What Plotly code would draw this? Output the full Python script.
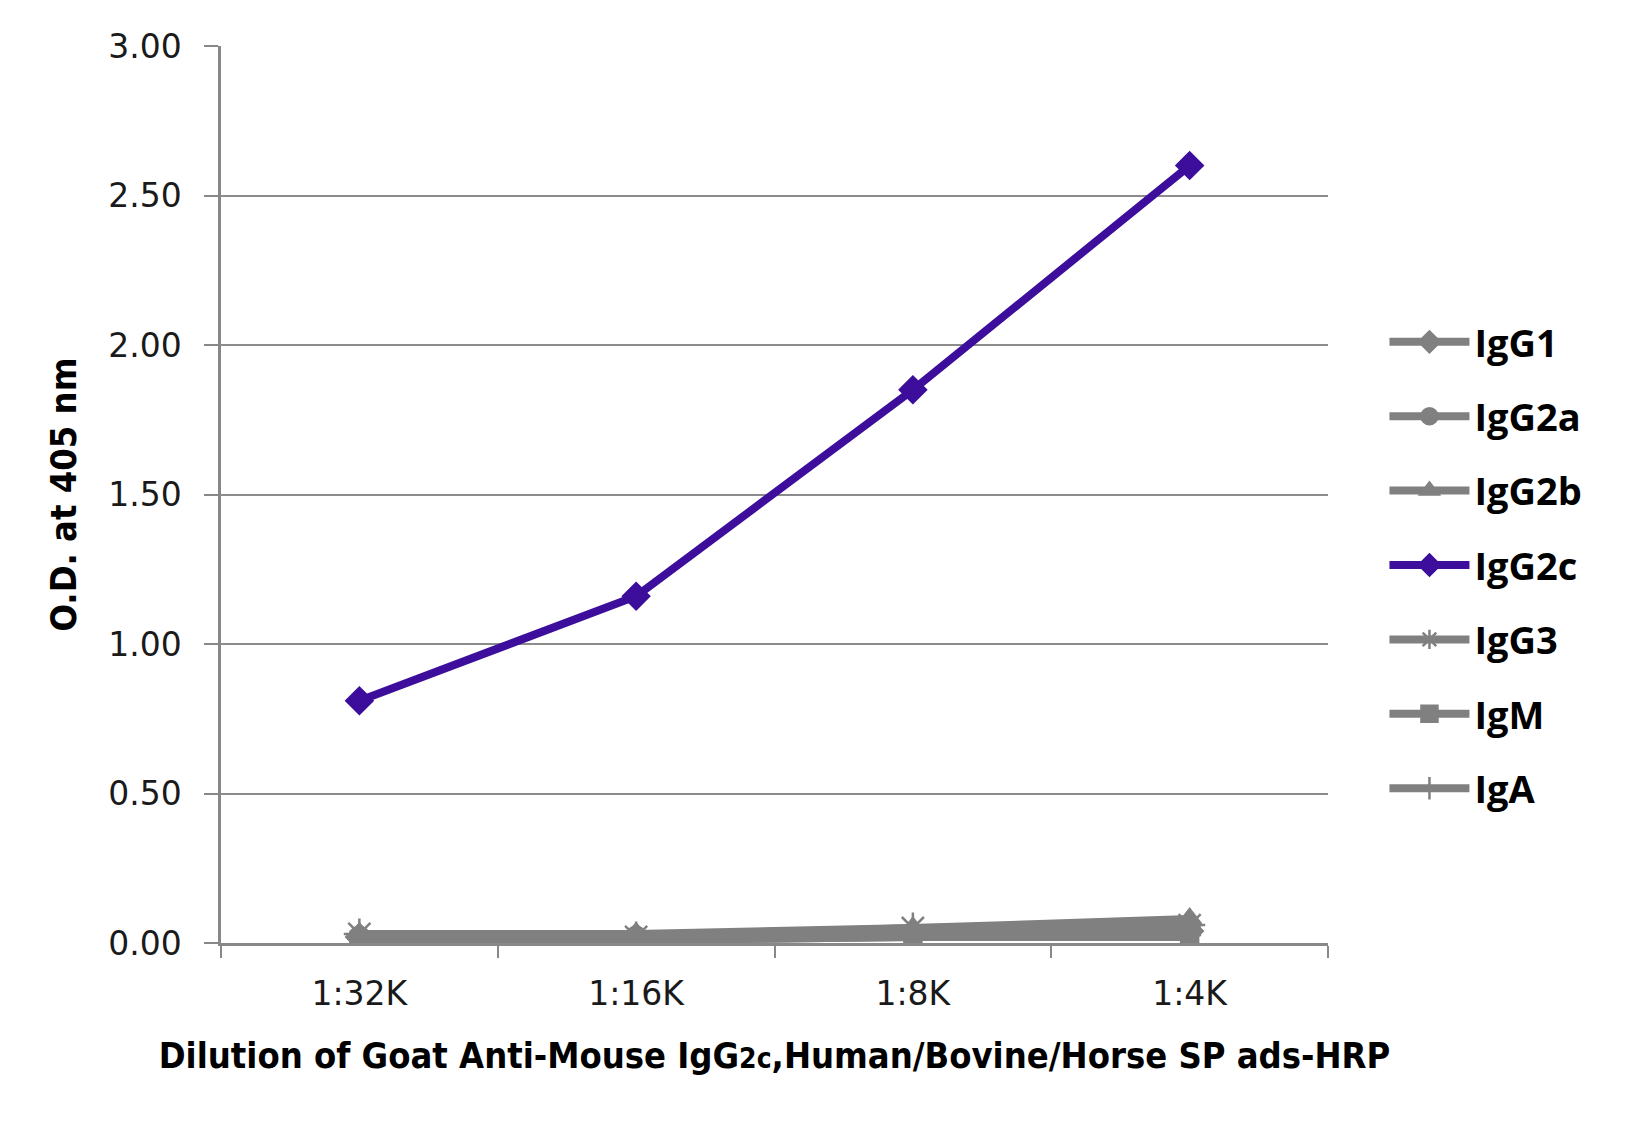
import plotly.graph_objects as go

categories = ["1:32K", "1:16K", "1:8K", "1:4K"]
series_names = ["IgG1", "IgG2a", "IgG2b", "IgG2c", "IgG3", "IgM", "IgA"]
igg1 = [0.02, 0.02, 0.03, 0.04]
igg2a = [0.02, 0.02, 0.03, 0.05]
igg2b = [0.03, 0.03, 0.05, 0.08]
igg2c = [0.81, 1.16, 1.85, 2.60]
igg3 = [0.03, 0.02, 0.05, 0.06]
igm = [0.01, 0.01, 0.02, 0.03]
iga = [0.01, 0.01, 0.02, 0.02]

values = [igg1, igg2a, igg2b, igg2c, igg3, igm, iga]
symbols = ["diamond", "circle", "triangle-up", "diamond", "asterisk-open", "square", "line-ns-open"]
sizes = [20, 20, 20, 20, 26, 17, 24]
GRAY = "#808080"
PURPLE = "#3d0e9c"
colors = [GRAY, GRAY, GRAY, PURPLE, GRAY, GRAY, GRAY]

fig = go.Figure()
order = [0, 1, 2, 4, 5, 6, 3]  # draw purple last
for i in order:
    fig.add_trace(go.Scatter(
        x=categories, y=values[i], name=series_names[i],
        mode="lines+markers",
        legendgroup=series_names[i], legendrank=i + 1,
        line=dict(color=colors[i], width=8),
        marker=dict(symbol=symbols[i], size=sizes[i], color=colors[i],
                    line=dict(color=colors[i], width=2.5)),
    ))

tick_font = dict(family="DejaVu Sans", size=33, color="#1a1a1a")
title_font = dict(family="Liberation Sans Narrow, DejaVu Sans Condensed, Open Sans", size=36,
                  color="#000000", weight="bold")

fig.update_layout(
    width=1629, height=1130,
    margin=dict(l=213, r=309, t=38, b=195),
    paper_bgcolor="white", plot_bgcolor="white",
    showlegend=True,
    legend=dict(
        x=1.051, xanchor="left", y=0.705, yanchor="top",
        font=dict(family="Open Sans", size=38, color="#000000", weight="bold"),
        itemwidth=80, traceorder="grouped", tracegroupgap=22,
        bgcolor="rgba(0,0,0,0)",
    ),
    xaxis=dict(
        type="category", range=[-0.5, 3.5],
        tickson="boundaries", ticks="outside", ticklen=12, tickwidth=2, tickcolor="#888888",
        ticklabelstandoff=20,
        showline=True, linecolor="#888888", linewidth=2.5,
        showgrid=False, tickfont=tick_font,
        title=dict(text="Dilution of Goat Anti-Mouse IgG<span style='font-size:28px'>2c</span>,Human/Bovine/Horse SP ads-HRP",
                   font=title_font, standoff=31),
    ),
    yaxis=dict(
        range=[0, 3], dtick=0.5, tickformat=".2f",
        ticks="outside", ticklen=14, tickwidth=2, tickcolor="#888888",
        ticklabelstandoff=16,
        showline=True, linecolor="#888888", linewidth=2.5,
        showgrid=True, gridcolor="#8c8c8c", gridwidth=2, zeroline=False,
        tickfont=tick_font,
        title=dict(text="O.D. at 405 nm", font=title_font, standoff=21),
    ),
)

fig.write_html("out.html")
